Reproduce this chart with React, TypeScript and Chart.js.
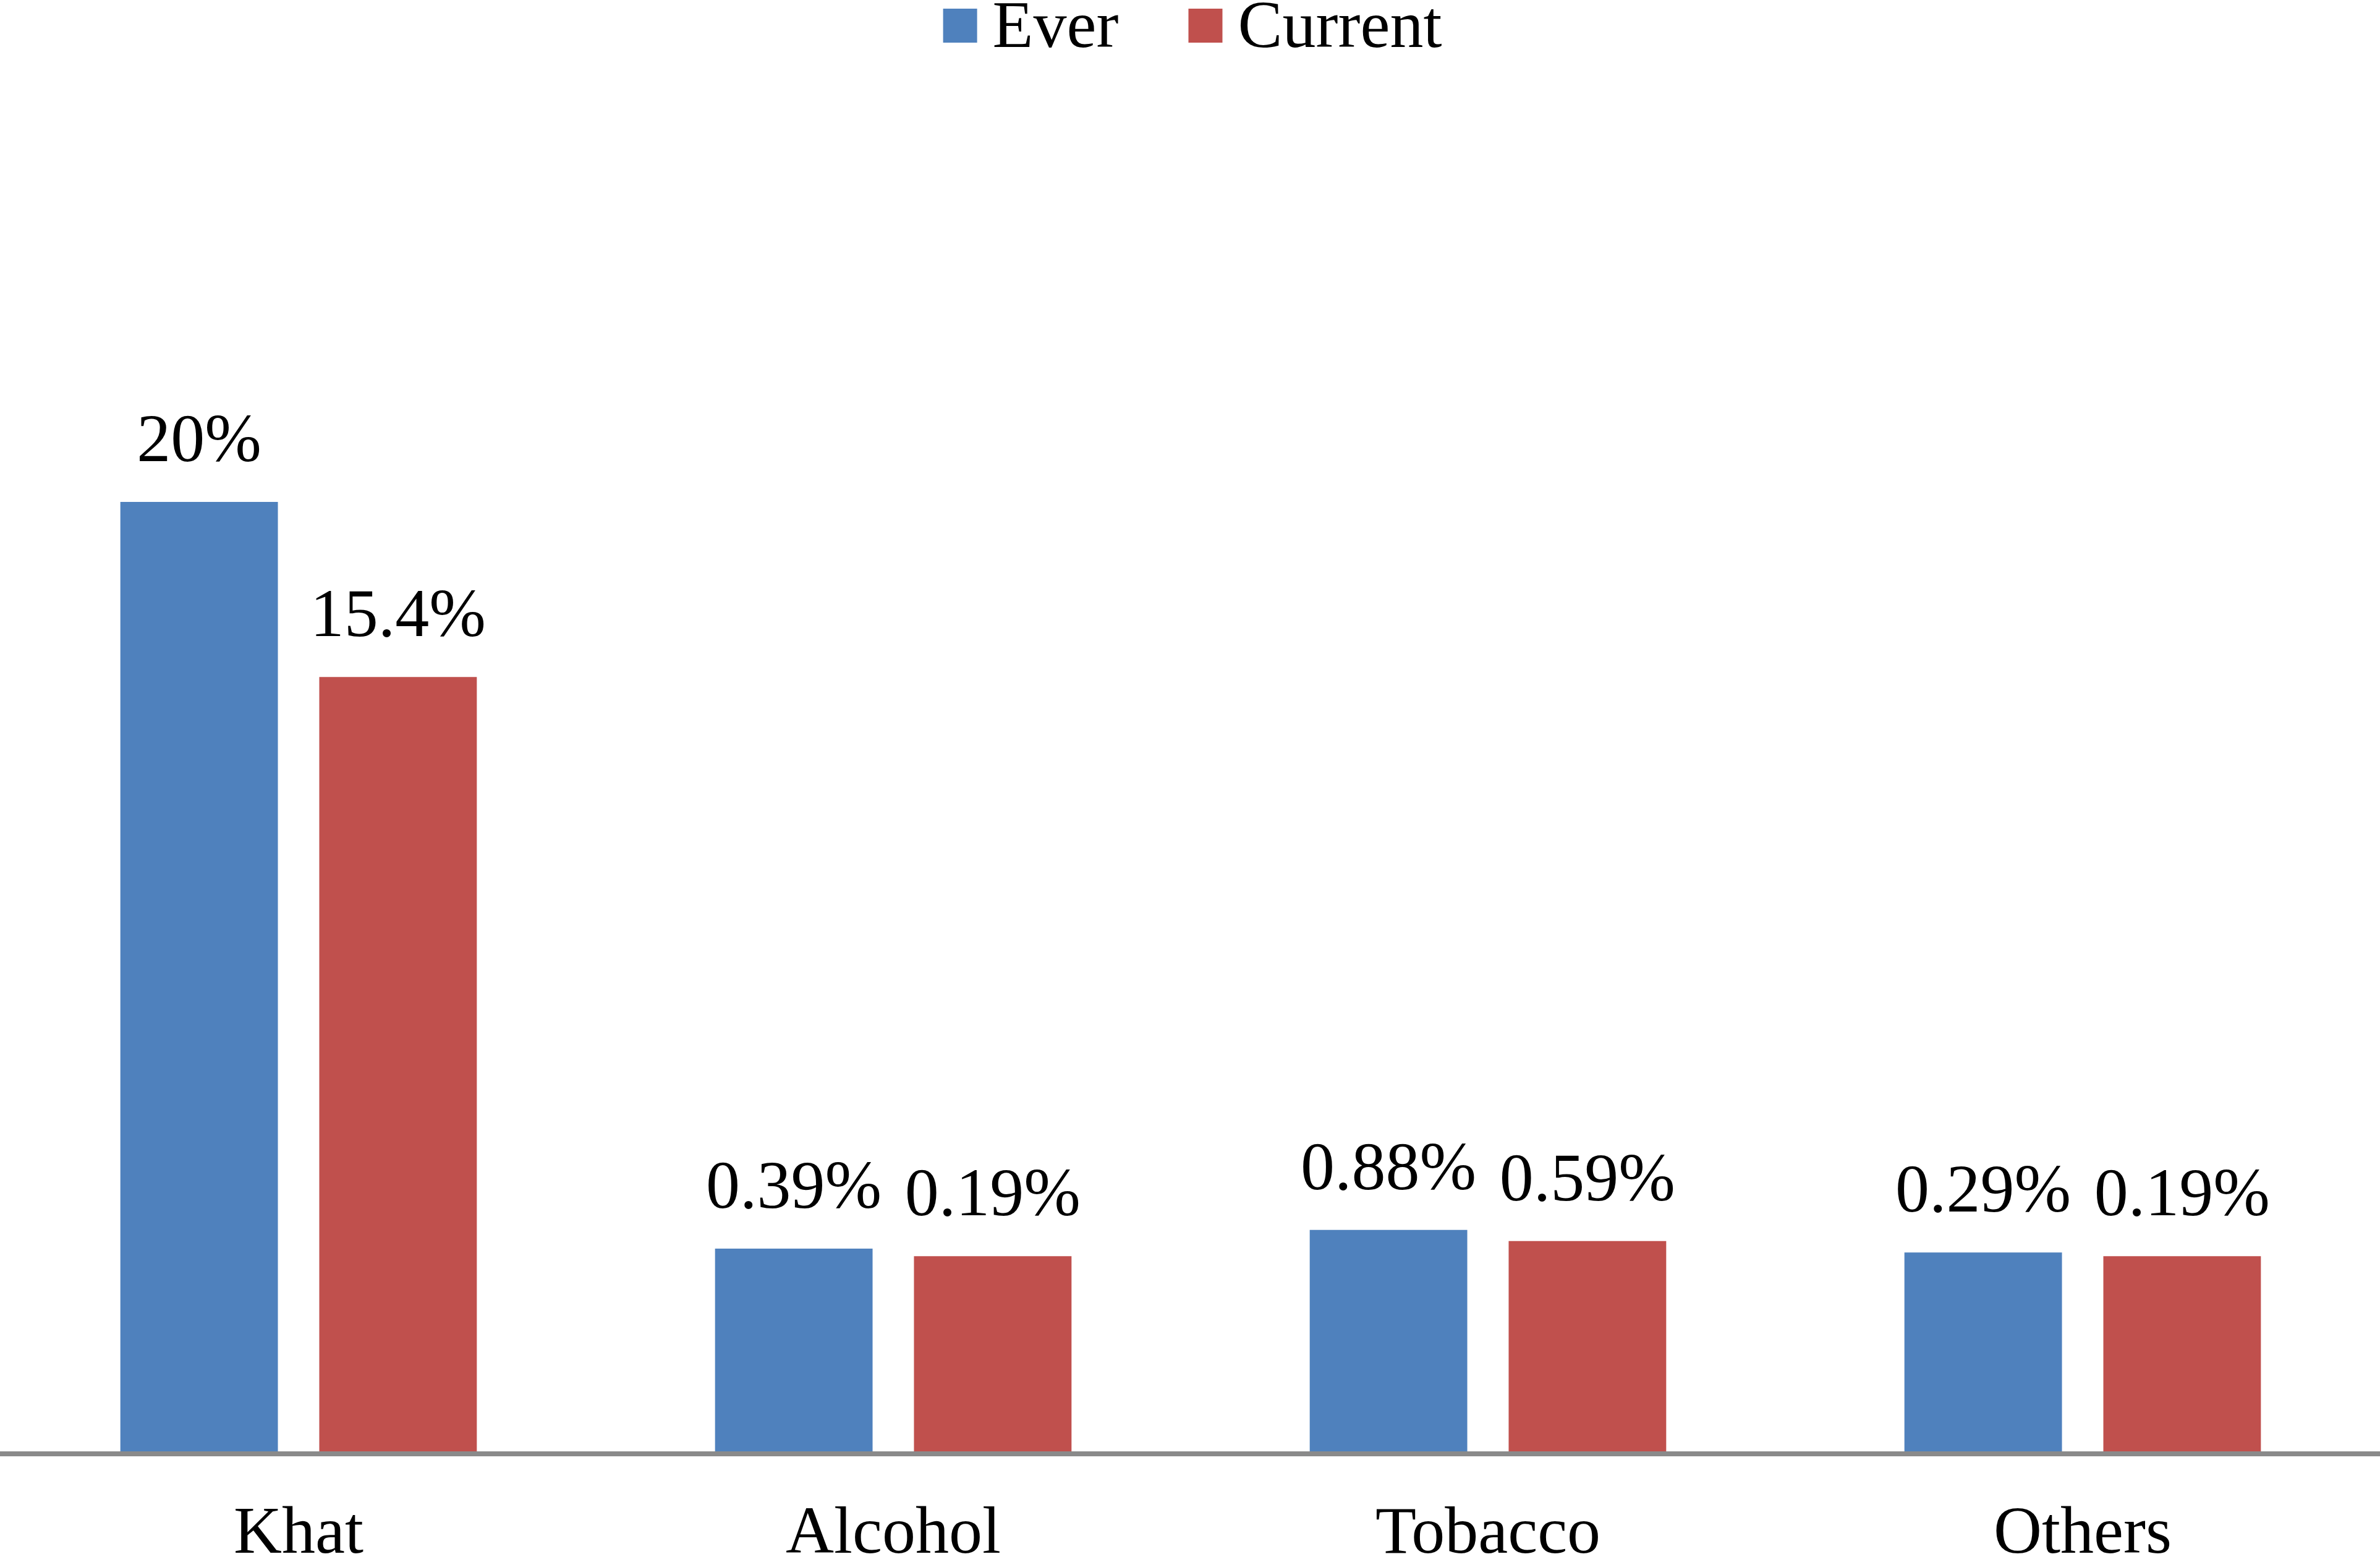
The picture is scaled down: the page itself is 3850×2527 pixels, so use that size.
import React, { useEffect, useRef } from 'react';
import { Chart, registerables } from 'chart.js';

Chart.register(...registerables);

// ---- data ----
const categories = ['Khat', 'Alcohol', 'Tobacco', 'Others'];
const seriesNames = ['Ever', 'Current'];
const everValues = [20, 0.39, 0.88, 0.29];
const currentValues = [15.4, 0.19, 0.59, 0.19];
const seriesColors = ['#4F81BD', '#C0504D'];

const FONT = '"Liberation Serif", "Times New Roman", serif';

const legendPlugin = {
  id: 'refLegend',
  afterDraw(chart: any) {
    const ctx = chart.ctx;
    ctx.save();
    ctx.font = `108px ${FONT}`;
    ctx.textBaseline = 'alphabetic';
    ctx.textAlign = 'left';
    const box = 55;
    const gapText = 25;
    const gapItem = 113;
    const items = chart.data.datasets.map((ds: any) => ({
      label: ds.label,
      color: ds.backgroundColor,
      w: ctx.measureText(ds.label).width,
    }));
    let total = 0;
    items.forEach((it: any, i: number) => {
      total += box + gapText + it.w + (i < items.length - 1 ? gapItem : 0);
    });
    let x = chart.width / 2 - total / 2 + 4;
    items.forEach((it: any) => {
      ctx.fillStyle = it.color;
      ctx.fillRect(x, 14, box, box);
      ctx.fillStyle = '#000';
      ctx.fillText(it.label, x + box + gapText, 76);
      x += box + gapText + it.w + gapItem;
    });
    ctx.restore();
  },
};

const valueLabelPlugin = {
  id: 'valueLabels',
  afterDatasetsDraw(chart: any) {
    const ctx = chart.ctx;
    ctx.save();
    ctx.font = `110px ${FONT}`;
    ctx.fillStyle = '#000';
    ctx.textAlign = 'center';
    ctx.textBaseline = 'alphabetic';
    chart.data.datasets.forEach((ds: any, di: number) => {
      const meta = chart.getDatasetMeta(di);
      meta.data.forEach((bar: any, i: number) => {
        const v = ds.data[i];
        ctx.fillText(`${v}%`, bar.x, bar.y - 66);
      });
    });
    ctx.restore();
  },
};

export default function App() {
  const canvasRef = useRef<HTMLCanvasElement | null>(null);

  useEffect(() => {
    document.body.style.margin = '0';
    document.body.style.overflow = 'hidden';
    const canvas = canvasRef.current;
    if (!canvas) return;
    const chart = new Chart(canvas, {
      type: 'bar',
      data: {
        labels: categories,
        datasets: [
          {
            label: seriesNames[0],
            data: everValues,
            backgroundColor: seriesColors[0],
            base: -5,
            categoryPercentage: 0.669,
            barPercentage: 0.792,
          } as any,
          {
            label: seriesNames[1],
            data: currentValues,
            backgroundColor: seriesColors[1],
            base: -5,
            categoryPercentage: 0.669,
            barPercentage: 0.792,
          } as any,
        ],
      },
      options: {
        animation: false,
        responsive: true,
        maintainAspectRatio: false,
        layout: { padding: { top: 196, bottom: -89, left: 2, right: 0 } },
        plugins: {
          legend: { display: false },
          tooltip: { enabled: false },
        },
        scales: {
          x: {
            grid: { display: false, drawTicks: false },
            border: { display: true, color: '#8A8A8A', width: 8, z: 1 },
            ticks: {
              color: '#000',
              padding: 78,
              font: { family: FONT, size: 108, lineHeight: 1 },
            },
          },
          y: {
            display: false,
            min: -5,
            max: 30,
          },
        },
      },
      plugins: [legendPlugin, valueLabelPlugin],
    });
    return () => chart.destroy();
  }, []);

  return (
    <div style={{ position: 'relative', width: '3850px', height: '2527px', background: '#fff' }}>
      <canvas ref={canvasRef} />
    </div>
  );
}
